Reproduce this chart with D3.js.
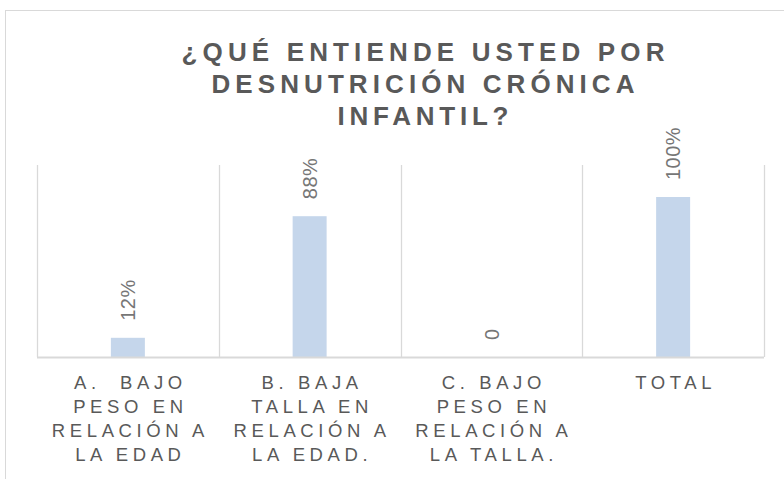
<!DOCTYPE html>
<html>
<head>
<meta charset="utf-8">
<script src="https://cdn.jsdelivr.net/npm/d3@7"></script>
<style>
  body { margin: 0; background: #fff; }
  svg { display: block; font-family: "Liberation Sans", Arial, sans-serif; }
</style>
</head>
<body>
<div id="chart"></div>
<script>
// data
var categories = ["A", "B", "C", "TOTAL"];
var catLines = [
  ["A.  BAJO", "PESO EN", "RELACIÓN A", "LA EDAD"],
  ["B. BAJA", "TALLA EN", "RELACIÓN A", "LA EDAD."],
  ["C. BAJO", "PESO EN", "RELACIÓN A", "LA TALLA."],
  ["TOTAL"]
];
var values = [0.12, 0.88, 0, 1.00];
var valueLabels = ["12%", "88%", "0", "100%"];
var titleLines = ["¿QUÉ ENTIENDE USTED POR", "DESNUTRICIÓN CRÓNICA", "INFANTIL?"];
var titleWidths = [483, 423, 171];
var yDomain = [0, 1.2];

var W = 784, H = 479;
var svg = d3.select("#chart").append("svg").attr("width", W).attr("height", H);

// chart frame (right and bottom edges fall outside the picture)
svg.append("rect").attr("x", 5.5).attr("y", 10.5).attr("width", 900).attr("height", 600)
   .style("fill", "#fff").style("stroke", "#d9d9d9").style("stroke-width", 1);

var x = d3.scaleBand().domain(categories).range([37, 764]).padding(0);
var y = d3.scaleLinear().domain(yDomain).range([357, 165]);
var bw = x.bandwidth();
var barW = bw * 0.187;

// vertical gridlines at category boundaries
var bounds = categories.map(function(c) { return x(c); }).concat([x.range()[1]]);
svg.selectAll("line.grid").data(bounds).enter().append("line").attr("class", "grid")
   .attr("x1", function(d) { return Math.round(d) + 0.5; })
   .attr("x2", function(d) { return Math.round(d) + 0.5; })
   .attr("y1", y(yDomain[1])).attr("y2", y(0))
   .style("stroke", "#d9d9d9").style("stroke-width", 1.3);

// bars
svg.selectAll("rect.bar").data(values).enter().append("rect").attr("class", "bar")
   .attr("x", function(d, i) { return x(categories[i]) + (bw - barW) / 2; })
   .attr("width", barW)
   .attr("y", function(d) { return y(d); })
   .attr("height", function(d) { return y(0) - y(d); })
   .style("fill", "#c5d6eb");

// category axis baseline
svg.append("line").attr("x1", 37).attr("x2", 764).attr("y1", y(0) + 0.5).attr("y2", y(0) + 0.5)
   .style("stroke", "#d9d9d9").style("stroke-width", 2);

// data labels, rotated
svg.selectAll("text.dlabel").data(values).enter().append("text").attr("class", "dlabel")
   .attr("transform", function(d, i) {
     return "translate(" + (x(categories[i]) + bw / 2) + "," + (y(d) - 17) + ") rotate(-90)";
   })
   .attr("dy", "0.36em")
   .style("font-size", "20px").style("letter-spacing", "0.5px").style("fill", "#767676")
   .text(function(d, i) { return valueLabels[i]; });

// category labels
var cl = svg.selectAll("g.cat").data(catLines).enter().append("g").attr("class", "cat")
   .attr("transform", function(d, i) { return "translate(" + (x(categories[i]) + bw / 2 + 2.5) + ",0)"; });
cl.selectAll("text").data(function(d) { return d; }).enter().append("text")
   .attr("x", 0).attr("y", function(d, i) { return 388.5 + i * 24.2; })
   .attr("text-anchor", "middle")
   .style("font-size", "18.5px").style("letter-spacing", "4.6px").style("fill", "#595959")
   .style("white-space", "pre")
   .text(function(d) { return d; });

// title
svg.selectAll("text.title").data(titleLines).enter().append("text").attr("class", "title")
   .attr("x", 423).attr("y", function(d, i) { return 61 + i * 32; })
   .attr("text-anchor", "middle")
   .attr("textLength", function(d, i) { return titleWidths[i]; })
   .attr("lengthAdjust", "spacing")
   .style("font-size", "26px").style("font-weight", "bold").style("fill", "#595959")
   .text(function(d) { return d; });
</script>
</body>
</html>
